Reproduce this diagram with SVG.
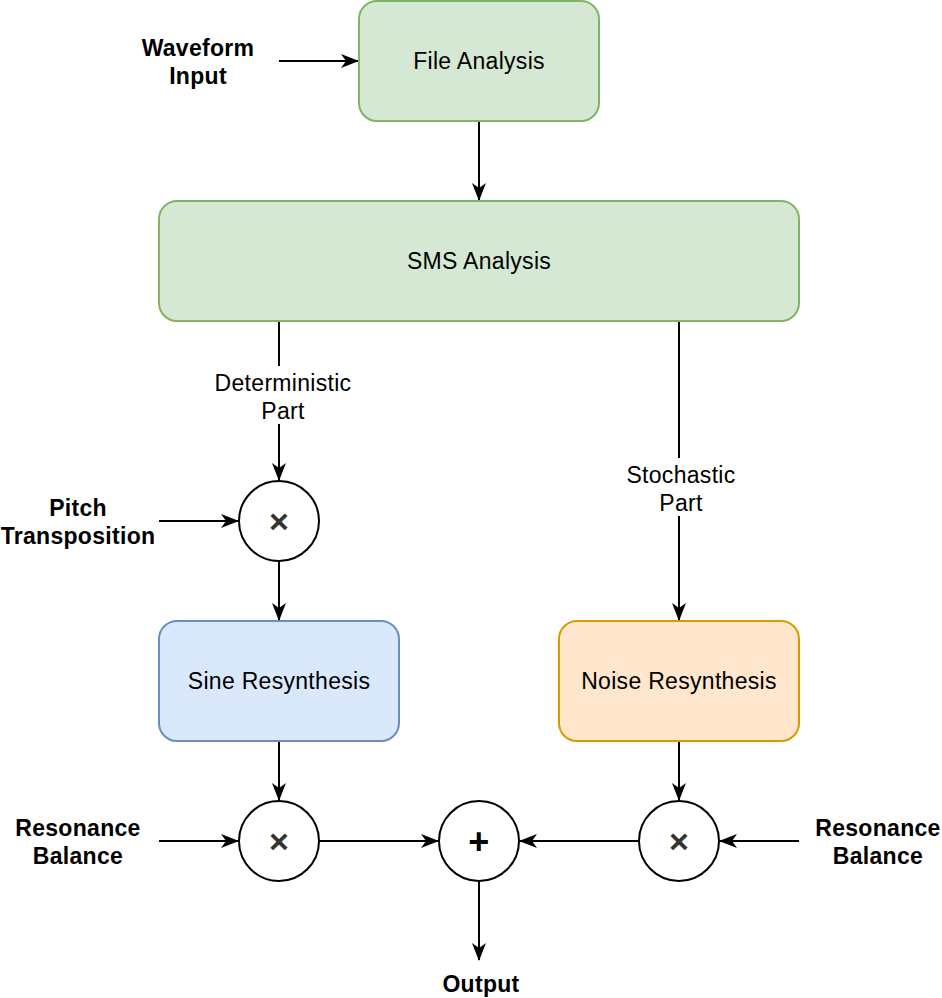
<svg xmlns="http://www.w3.org/2000/svg" width="942" height="998" viewBox="0 0 942 998">
<defs>
<marker id="arr" viewBox="0 0 18 14" refX="17" refY="7" markerWidth="18" markerHeight="14" markerUnits="userSpaceOnUse" orient="auto">
<path d="M0,0 L18,7 L0,14 L5,7 Z" fill="#000"/>
</marker>
</defs>
<style>
text{font-family:"Liberation Sans",Arial,sans-serif;font-size:23px;fill:#000;letter-spacing:0.3px;}
.b{font-weight:bold;}
.box{stroke-width:2;}
.g{fill:#d5e8d4;stroke:#82b366;}
.bl{fill:#dae8fc;stroke:#6c8ebf;}
.o{fill:#ffe6cc;stroke:#d79b00;}
.c{fill:#fff;stroke:#000;stroke-width:2;}
.x{font-weight:bold;fill:#333;font-size:34px;}
.p{font-weight:bold;fill:#000;font-size:36px;}
.e{fill:none;stroke:#000;stroke-width:2;marker-end:url(#arr);}
.lb{fill:#fff;stroke:none;}
</style>
<rect width="942" height="998" fill="#fff"/>
<g id="connectors">
<path class="e" d="M279,61 L358,61"/>
<path class="e" d="M479,121 L479,200"/>
<path class="e" d="M279,321 L279,480"/>
<path class="e" d="M679,321 L679,620"/>
<path class="e" d="M159,521 L238,521"/>
<path class="e" d="M279,561 L279,620"/>
<path class="e" d="M279,741 L279,800"/>
<path class="e" d="M159,841 L238,841"/>
<path class="e" d="M319,841 L438,841"/>
<path class="e" d="M679,741 L679,800"/>
<path class="e" d="M639,841 L520,841"/>
<path class="e" d="M799,841 L720,841"/>
<path class="e" d="M479,881 L479,960"/>
<g id="label-deterministic">
<rect class="lb" x="210" y="366" width="144" height="58"/>
<text x="283" y="391" text-anchor="middle">Deterministic</text>
<text x="283" y="419" text-anchor="middle">Part</text>
</g>
<g id="label-stochastic">
<rect class="lb" x="620" y="458" width="122" height="58"/>
<text x="681" y="483" text-anchor="middle">Stochastic</text>
<text x="681" y="511" text-anchor="middle">Part</text>
</g>
</g>
<g id="file-analysis">
<rect class="box g" x="359" y="1" width="240" height="120" rx="18"/>
<text x="479" y="69" text-anchor="middle">File Analysis</text>
</g>
<g id="sms-analysis">
<rect class="box g" x="159" y="201" width="640" height="120" rx="18"/>
<text x="479" y="269" text-anchor="middle">SMS Analysis</text>
</g>
<g id="sine-resynthesis">
<rect class="box bl" x="159" y="621" width="240" height="120" rx="18"/>
<text x="279" y="689" text-anchor="middle">Sine Resynthesis</text>
</g>
<g id="noise-resynthesis">
<rect class="box o" x="559" y="621" width="240" height="120" rx="18"/>
<text x="679" y="689" text-anchor="middle">Noise Resynthesis</text>
</g>
<g id="mult-pitch">
<circle class="c" cx="279" cy="521" r="40"/>
<text class="x" x="279" y="533" text-anchor="middle">×</text>
</g>
<g id="mult-sine">
<circle class="c" cx="279" cy="841" r="40"/>
<text class="x" x="279" y="853" text-anchor="middle">×</text>
</g>
<g id="adder">
<circle class="c" cx="479" cy="841" r="40"/>
<text class="p" x="479" y="854" text-anchor="middle">+</text>
</g>
<g id="mult-noise">
<circle class="c" cx="679" cy="841" r="40"/>
<text class="x" x="679" y="853" text-anchor="middle">×</text>
</g>
<g id="waveform-input">
<text class="b" x="198" y="56" text-anchor="middle">Waveform</text>
<text class="b" x="198" y="84" text-anchor="middle">Input</text>
</g>
<g id="pitch-transposition">
<text class="b" x="78" y="516" text-anchor="middle">Pitch</text>
<text class="b" x="78" y="544" text-anchor="middle">Transposition</text>
</g>
<g id="resonance-left">
<text class="b" x="78" y="836" text-anchor="middle">Resonance</text>
<text class="b" x="78" y="864" text-anchor="middle">Balance</text>
</g>
<g id="resonance-right">
<text class="b" x="878" y="836" text-anchor="middle">Resonance</text>
<text class="b" x="878" y="864" text-anchor="middle">Balance</text>
</g>
<g id="output">
<text class="b" x="481" y="992" text-anchor="middle">Output</text>
</g>
</svg>
